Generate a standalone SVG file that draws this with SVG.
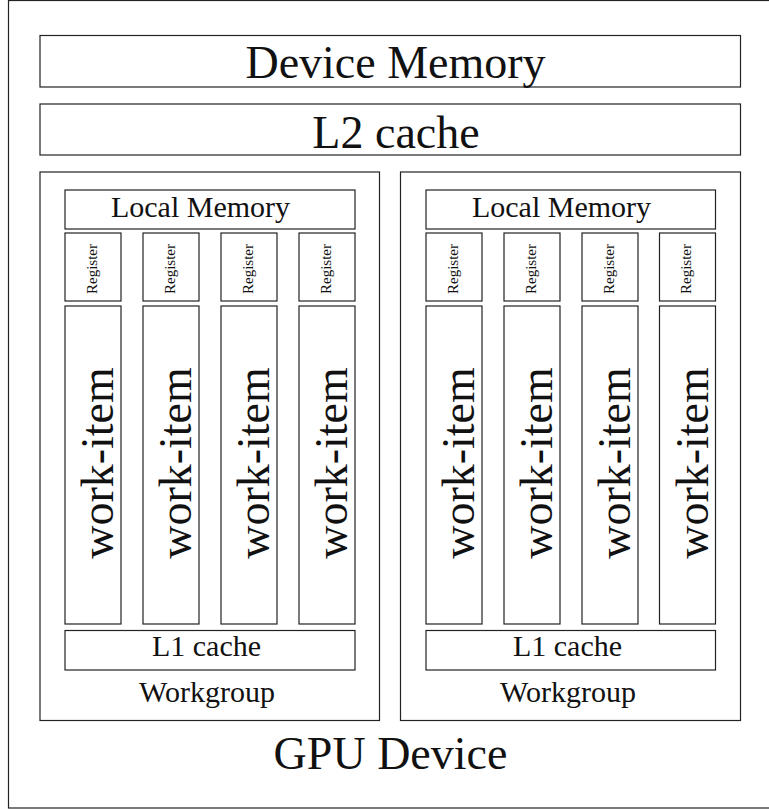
<svg xmlns="http://www.w3.org/2000/svg" width="769" height="809" viewBox="0 0 769 809">
  <style>
    .box { fill: #ffffff; stroke: #222222; stroke-width: 1.2; }
    .lbl { font-family: "Liberation Serif", "Times New Roman", serif; fill: #111111; text-anchor: middle; }
    .xl { font-size: 46px; }
    .md { font-size: 30px; }
    .wi { font-size: 46px; }
    .rg { font-size: 15px; }
  </style>
  <rect width="769" height="809" fill="#ffffff"/>

  <!-- GPU device frame -->
  <g id="gpu-device">
    <rect class="box" x="8.5" y="0.5" width="780" height="807.5"/>
    <text class="lbl xl" x="390.5" y="769">GPU Device</text>
  </g>

  <g id="device-memory">
    <rect class="box" x="40" y="35.5" width="700.5" height="51.5"/>
    <text class="lbl xl" x="395.5" y="78">Device Memory</text>
  </g>

  <g id="l2-cache">
    <rect class="box" x="40" y="104" width="700.5" height="51"/>
    <text class="lbl xl" x="396" y="148">L2 cache</text>
  </g>

  <!-- Workgroup 1 -->
  <g id="workgroup-1">
    <rect class="box" x="40" y="172" width="339.5" height="548.5"/>
    <text class="lbl md" x="207" y="701.5">Workgroup</text>
    <g id="local-memory-1">
      <rect class="box" x="65" y="190" width="290" height="39"/>
      <text class="lbl md" x="200.5" y="217">Local Memory</text>
    </g>
    <g id="register-1-1"><rect class="box" x="65" y="233" width="56" height="68"/><text class="lbl rg" transform="translate(96.5,269) rotate(-90)">Register</text></g>
    <g id="register-1-2"><rect class="box" x="143" y="233" width="56" height="68"/><text class="lbl rg" transform="translate(174.5,269) rotate(-90)">Register</text></g>
    <g id="register-1-3"><rect class="box" x="221" y="233" width="56" height="68"/><text class="lbl rg" transform="translate(252.5,269) rotate(-90)">Register</text></g>
    <g id="register-1-4"><rect class="box" x="299" y="233" width="56" height="68"/><text class="lbl rg" transform="translate(330.5,269) rotate(-90)">Register</text></g>
    <g id="work-item-1-1"><rect class="box" x="65" y="306" width="56" height="318"/><text class="lbl wi" transform="translate(113,463) rotate(-90)">work-item</text></g>
    <g id="work-item-1-2"><rect class="box" x="143" y="306" width="56" height="318"/><text class="lbl wi" transform="translate(191,463) rotate(-90)">work-item</text></g>
    <g id="work-item-1-3"><rect class="box" x="221" y="306" width="56" height="318"/><text class="lbl wi" transform="translate(269,463) rotate(-90)">work-item</text></g>
    <g id="work-item-1-4"><rect class="box" x="299" y="306" width="56" height="318"/><text class="lbl wi" transform="translate(347,463) rotate(-90)">work-item</text></g>
    <g id="l1-cache-1">
      <rect class="box" x="65" y="630.5" width="290" height="39.5"/>
      <text class="lbl md" x="206.5" y="656">L1 cache</text>
    </g>
  </g>

  <!-- Workgroup 2 -->
  <g id="workgroup-2">
    <rect class="box" x="400.5" y="172" width="340" height="548.5"/>
    <text class="lbl md" x="568" y="701.5">Workgroup</text>
    <g id="local-memory-2">
      <rect class="box" x="426" y="190" width="289.5" height="39"/>
      <text class="lbl md" x="561.5" y="217">Local Memory</text>
    </g>
    <g id="register-2-1"><rect class="box" x="426" y="233" width="56" height="68"/><text class="lbl rg" transform="translate(457.5,269) rotate(-90)">Register</text></g>
    <g id="register-2-2"><rect class="box" x="504" y="233" width="56" height="68"/><text class="lbl rg" transform="translate(535.5,269) rotate(-90)">Register</text></g>
    <g id="register-2-3"><rect class="box" x="582" y="233" width="56" height="68"/><text class="lbl rg" transform="translate(613.5,269) rotate(-90)">Register</text></g>
    <g id="register-2-4"><rect class="box" x="659.5" y="233" width="56" height="68"/><text class="lbl rg" transform="translate(691,269) rotate(-90)">Register</text></g>
    <g id="work-item-2-1"><rect class="box" x="426" y="306" width="56" height="318"/><text class="lbl wi" transform="translate(474,463) rotate(-90)">work-item</text></g>
    <g id="work-item-2-2"><rect class="box" x="504" y="306" width="56" height="318"/><text class="lbl wi" transform="translate(552,463) rotate(-90)">work-item</text></g>
    <g id="work-item-2-3"><rect class="box" x="582" y="306" width="56" height="318"/><text class="lbl wi" transform="translate(630,463) rotate(-90)">work-item</text></g>
    <g id="work-item-2-4"><rect class="box" x="659.5" y="306" width="56" height="318"/><text class="lbl wi" transform="translate(707.5,463) rotate(-90)">work-item</text></g>
    <g id="l1-cache-2">
      <rect class="box" x="426" y="630.5" width="289.5" height="39.5"/>
      <text class="lbl md" x="567.5" y="656">L1 cache</text>
    </g>
  </g>
</svg>
